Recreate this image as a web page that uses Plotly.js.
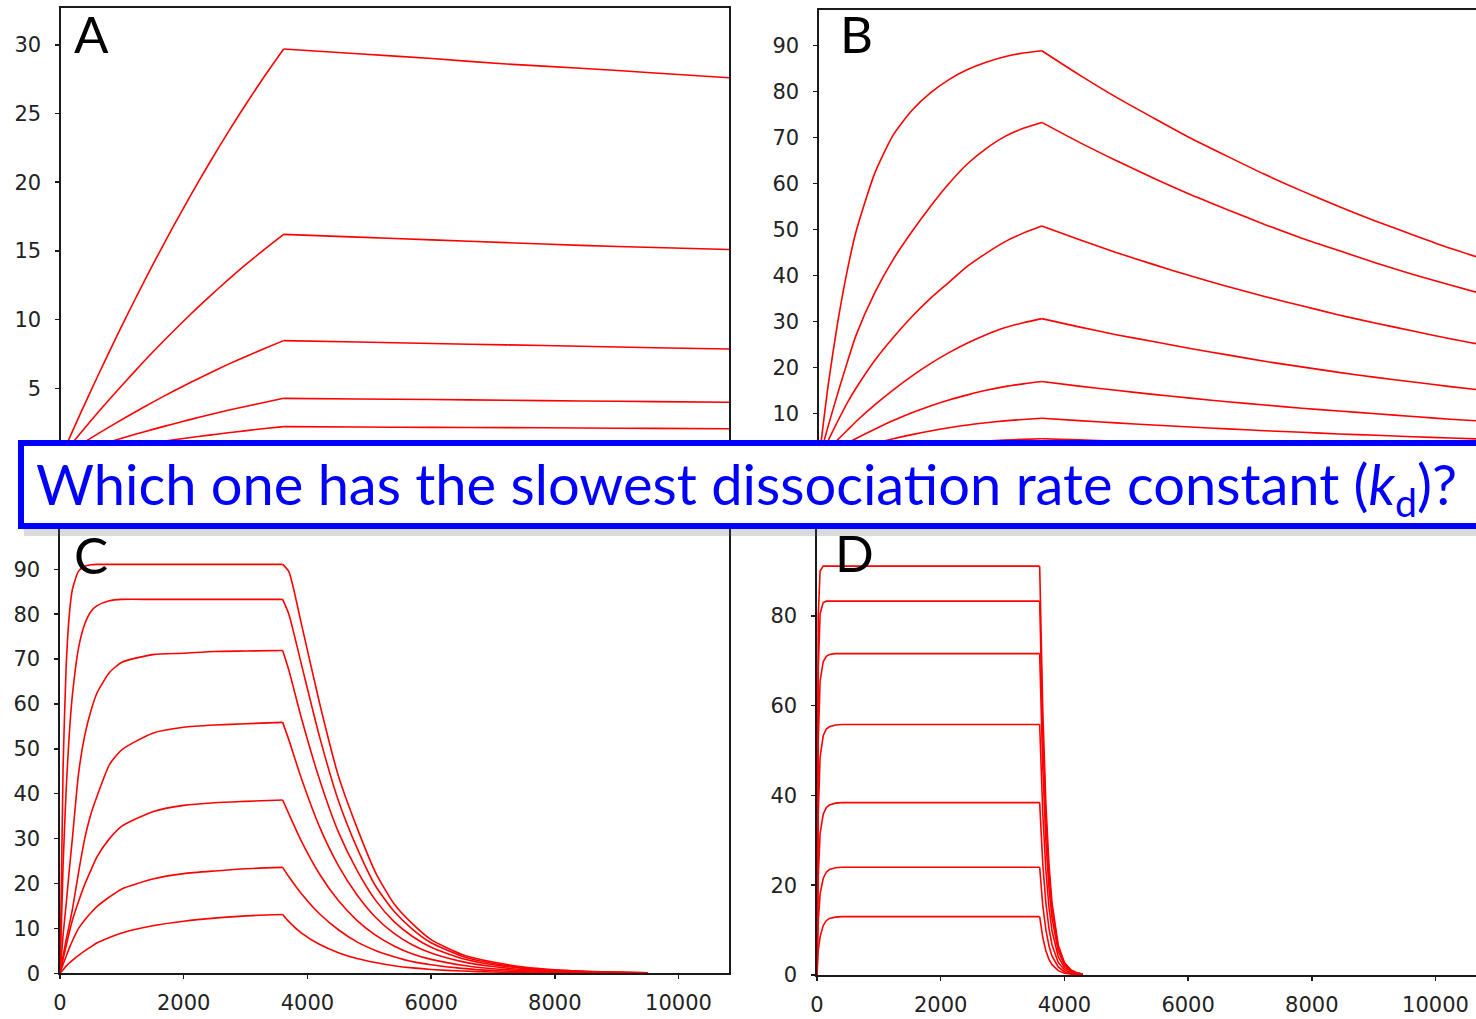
<!DOCTYPE html>
<html>
<head>
<meta charset="utf-8">
<script src="https://cdn.plot.ly/plotly-3.0.1.min.js"></script>
<style>
html, body { margin: 0; padding: 0; overflow: hidden; background: #ffffff; }
#chart { width: 1500px; height: 1019px; }
</style>
</head>
<body>
<div id="chart"></div>
<script>
// ---------- Data ----------
// Injection ends (association -> dissociation) at this time (s)
const injectionEnd = 3600;

// Panel A: time (s) and response (RU)
const timeA = [0, 300, 600, 900, 1200, 1500, 1800, 2100, 2400, 2700, 3000, 3300, 3600, 4800, 6000, 7200, 8400, 9600, 10800];
const a1 = [0, 3.03, 5.95, 8.78, 11.5, 14.13, 16.65, 19.08, 21.4, 23.63, 25.75, 27.78, 29.7, 29.35, 29.0, 28.6, 28.3, 27.95, 27.6];
const a2 = [0, 1.65, 3.25, 4.79, 6.27, 7.71, 9.08, 10.41, 11.67, 12.89, 14.05, 15.15, 16.2, 16.0, 15.8, 15.6, 15.4, 15.25, 15.1];
const a3 = [0, 0.86, 1.70, 2.50, 3.28, 4.03, 4.75, 5.44, 6.10, 6.74, 7.34, 7.92, 8.47, 8.37, 8.26, 8.16, 8.06, 7.95, 7.86];
const a4 = [0, 0.44, 0.86, 1.26, 1.65, 2.03, 2.39, 2.74, 3.08, 3.40, 3.70, 3.99, 4.27, 4.22, 4.18, 4.13, 4.08, 4.03, 3.98];
const a5 = [0, 0.23, 0.44, 0.65, 0.86, 1.05, 1.24, 1.42, 1.59, 1.76, 1.92, 2.07, 2.21, 2.18, 2.16, 2.14, 2.11, 2.08, 2.06];

// Panel B
const timeB = [0, 150, 300, 450, 600, 900, 1200, 1500, 1800, 2100, 2400, 2700, 3000, 3300, 3600, 4200, 4800, 5400, 6000, 6600, 7200, 7800, 8400, 9000, 9600, 10200, 10800];
const b1 = [0, 16.3, 29.6, 40.6, 49.6, 62.2, 70.6, 75.9, 79.7, 82.6, 84.8, 86.4, 87.6, 88.4, 88.9, 83.7, 78.8, 74.3, 69.9, 65.9, 62.0, 58.4, 55.0, 51.8, 48.8, 45.9, 43.3];
const b2 = [0, 7.3, 14.2, 20.8, 27.0, 36.2, 43.5, 49.5, 55.0, 60.0, 64.3, 67.6, 70.2, 72.0, 73.3, 69.0, 65.0, 61.2, 57.6, 54.3, 51.1, 48.1, 45.4, 42.7, 40.2, 37.9, 35.7];
const b3 = [0, 4.1, 8.2, 12.1, 15.5, 21.5, 26.5, 31, 35, 38.5, 42, 44.8, 47.3, 49.2, 50.75, 47.8, 45.0, 42.4, 39.9, 37.6, 35.4, 33.4, 31.4, 29.6, 27.9, 26.2, 24.7];
const b4 = [0, 2.1, 4.2, 6.2, 8.2, 11.8, 15.1, 18.1, 20.8, 23.2, 25.3, 27.1, 28.6, 29.7, 30.6, 28.8, 27.1, 25.6, 24.1, 22.7, 21.3, 20.1, 18.9, 17.8, 16.8, 15.8, 14.9];
const b5 = [0, 1.15, 2.3, 3.4, 4.5, 6.5, 8.4, 10.1, 11.6, 12.9, 14.0, 15.0, 15.8, 16.4, 16.9, 15.9, 15.0, 14.1, 13.3, 12.5, 11.8, 11.1, 10.5, 9.9, 9.3, 8.7, 8.2];
const b6 = [0, 0.6, 1.2, 1.8, 2.35, 3.45, 4.45, 5.35, 6.15, 6.85, 7.45, 7.95, 8.35, 8.65, 8.9, 8.4, 7.9, 7.45, 7.0, 6.6, 6.2, 5.85, 5.5, 5.2, 4.9, 4.6, 4.35];
const b7 = [0, 0.3, 0.6, 0.9, 1.18, 1.72, 2.22, 2.67, 3.07, 3.42, 3.72, 3.97, 4.17, 4.32, 4.45, 4.2, 3.95, 3.72, 3.5, 3.3, 3.1, 2.92, 2.75, 2.6, 2.45, 2.3, 2.18];

// Panel C
const timeC = [0, 50, 100, 150, 200, 300, 400, 500, 600, 800, 1000, 1500, 2000, 2500, 3000, 3600, 3700, 3900, 4200, 4500, 4800, 5100, 5400, 5700, 6000, 6500, 7000, 7500, 8000, 8500, 9000, 9500];
const c1 = [0, 45.8, 68.5, 79.8, 85.5, 89.6, 90.7, 91.0, 91.1, 91.1, 91.1, 91.1, 91.1, 91.1, 91.1, 91.1, 89.5, 78, 60, 44, 32.5, 22.5, 15.5, 11, 7.5, 4.2, 2.5, 1.4, 0.8, 0.45, 0.25, 0.1];
const c2 = [0, 24.0, 41.0, 53.3, 61.9, 72.5, 77.8, 80.6, 81.9, 83.0, 83.3, 83.3, 83.3, 83.3, 83.3, 83.3, 80, 69, 52.5, 38.5, 28, 19.5, 13.8, 9.8, 6.8, 3.8, 2.2, 1.25, 0.7, 0.4, 0.22, 0.1];
const c3 = [0, 8.5, 15.5, 23, 30, 44.5, 53, 58.5, 62.5, 67, 69.3, 71.0, 71.3, 71.7, 71.8, 71.9, 67.5, 57, 43, 31.5, 23, 16.3, 11.5, 8.2, 5.8, 3.3, 1.9, 1.1, 0.6, 0.35, 0.2, 0.1];
const c4 = [0, 3.8, 7.5, 10.8, 14.2, 22.5, 30, 35.5, 39.5, 46.5, 49.8, 53.5, 54.8, 55.3, 55.6, 55.9, 52, 43.5, 32.5, 24, 17.5, 12.5, 8.9, 6.3, 4.5, 2.6, 1.5, 0.85, 0.5, 0.28, 0.15, 0.08];
const c5 = [0, 3.2, 6.2, 9.1, 11.8, 16, 19.8, 23, 26, 30, 32.8, 36, 37.4, 38, 38.3, 38.6, 35.5, 29.5, 22, 16.2, 11.8, 8.5, 6.1, 4.3, 3.1, 1.8, 1.0, 0.6, 0.35, 0.2, 0.1, 0.05];
const c6 = [0, 2.0, 3.8, 5.6, 7.2, 10.0, 11.9, 13.5, 14.9, 17.0, 18.8, 21.0, 22.2, 22.8, 23.3, 23.6, 21.5, 17.8, 13.2, 9.7, 7.0, 5.1, 3.7, 2.6, 1.9, 1.1, 0.62, 0.36, 0.2, 0.12, 0.07, 0.04];
const c7 = [0, 0.8, 1.6, 2.3, 2.9, 4.0, 5.0, 5.9, 6.8, 8.0, 9.0, 10.6, 11.6, 12.3, 12.8, 13.1, 11.5, 9.0, 6.4, 4.6, 3.3, 2.4, 1.7, 1.2, 0.85, 0.5, 0.28, 0.16, 0.09, 0.05, 0.03, 0.02];

// Panel D
const timeD = [0, 20, 50, 100, 150, 200, 300, 400, 3600, 3620, 3650, 3700, 3750, 3800, 3900, 4000, 4100, 4200, 4300];
const d1 = [0, 80, 90, 91.1, 91.1, 91.1, 91.1, 91.1, 91.1, 76.5, 59, 38.2, 24.7, 16.0, 6.7, 2.8, 1.2, 0.5, 0.23];
const d2 = [0, 68, 80.5, 83, 83.3, 83.3, 83.3, 83.3, 83.3, 70, 53.9, 34.9, 22.6, 14.6, 6.1, 2.6, 1.1, 0.45, 0.2];
const d3 = [0, 52, 65.5, 69.8, 71, 71.4, 71.6, 71.6, 71.6, 60.1, 46.3, 30.0, 19.4, 12.6, 5.3, 2.2, 0.92, 0.39, 0.16];
const d4 = [0, 36, 48.5, 53.3, 54.8, 55.3, 55.7, 55.8, 55.8, 46.9, 36.1, 23.4, 15.1, 9.8, 4.1, 1.7, 0.72, 0.3, 0.13];
const d5 = [0, 22, 31.5, 35.8, 37.3, 37.9, 38.3, 38.4, 38.4, 32.3, 24.8, 16.1, 10.4, 6.7, 2.8, 1.2, 0.5, 0.21, 0.09];
const d6 = [0, 12, 18, 21.5, 22.9, 23.5, 23.9, 24.0, 24.0, 20.2, 15.5, 10.1, 6.5, 4.2, 1.8, 0.74, 0.31, 0.13, 0.06];
const d7 = [0, 5.5, 8.5, 11, 12.1, 12.6, 12.9, 13.0, 13.0, 10.9, 8.4, 5.4, 3.5, 2.3, 0.96, 0.4, 0.17, 0.07, 0.03];

// Tick values and labels
const yTicksA = [5, 10, 15, 20, 25, 30];
const yTicksB = [10, 20, 30, 40, 50, 60, 70, 80, 90];
const yTicksC = [0, 10, 20, 30, 40, 50, 60, 70, 80, 90];
const yTicksD = [0, 20, 40, 60, 80];
const xTicks = [0, 2000, 4000, 6000, 8000, 10000];
const panelLabels = ["A", "B", "C", "D"];
const question = "Which one has the slowest dissociation rate constant (<i>k</i><sub>d</sub>)?";

// ---------- Build ----------
const W = 1500, H = 1019;
const px = v => v / W;
const py = v => 1 - v / H;

const RED = '#ff0000';
// Each curve is drawn as two pieces (association, dissociation) so the
// corner at the end of injection stays sharp while each phase is smooth.
function series(t, ys, xa, ya, shape) {
  const k = t.indexOf(injectionEnd);
  const out = [];
  ys.forEach(y => {
    [[0, k + 1], [k, t.length]].forEach(([s, e]) => {
      out.push({
        type: 'scatter', mode: 'lines', x: t.slice(s, e), y: y.slice(s, e),
        xaxis: xa, yaxis: ya,
        line: { color: RED, width: 1.6, shape: shape, smoothing: 0.6 },
        hoverinfo: 'skip', showlegend: false
      });
    });
  });
  return out;
}

const traces = []
  .concat(series(timeA, [a1, a2, a3, a4, a5], 'x', 'y', 'spline'))
  .concat(series(timeB, [b1, b2, b3, b4, b5, b6, b7], 'x2', 'y2', 'spline'))
  .concat(series(timeC, [c1, c2, c3, c4, c5, c6, c7], 'x3', 'y3', 'spline'))
  .concat(series(timeD, [d1, d2, d3, d4, d5, d6, d7], 'x4', 'y4', 'linear'));

const tickFont = { family: 'DejaVu Sans', size: 21, color: '#222222' };
const axisBase = {
  showline: true, linecolor: '#1a1a1a', linewidth: 1.6, mirror: true,
  showgrid: false, zeroline: false, fixedrange: true,
  ticks: 'outside', ticklen: 4, tickwidth: 1.5, tickcolor: '#1a1a1a',
  tickfont: tickFont
};
function xAxis(dom, range, labels, anchor) {
  return Object.assign({}, axisBase, {
    domain: dom, range: range, anchor: anchor,
    tickmode: 'array', tickvals: xTicks, ticktext: xTicks.map(String),
    showticklabels: labels, ticks: labels ? 'outside' : '',
    ticklabelstandoff: 6
  });
}
function yAxis(dom, range, vals, anchor) {
  return Object.assign({}, axisBase, {
    domain: dom, range: range, anchor: anchor,
    tickmode: 'array', tickvals: vals, ticktext: vals.map(String),
    ticklabelstandoff: 10
  });
}

const layout = {
  width: W, height: H,
  margin: { l: 0, r: 0, t: 0, b: 0, pad: 0 },
  paper_bgcolor: '#ffffff', plot_bgcolor: '#ffffff',
  showlegend: false,
  xaxis:  xAxis([px(61), px(729)], [0, 10800], false, 'y'),
  yaxis:  yAxis([py(470), py(8)], [-0.946, 32.68], yTicksA, 'x'),
  xaxis2: xAxis([px(819), px(1488)], [0, 10810], false, 'y2'),
  yaxis2: yAxis([py(470), py(10)], [-2.35, 97.76], yTicksB, 'x2'),
  xaxis3: xAxis([px(60), px(729)], [0, 10816], true, 'y3'),
  yaxis3: yAxis([py(973.3), py(528)], [0, 99.2], yTicksC, 'x3'),
  xaxis4: xAxis([px(817), px(1486)], [0, 10816], true, 'y4'),
  yaxis4: yAxis([py(975), py(528)], [0, 99.6], yTicksD, 'x4'),
  shapes: [
    { type: 'rect', xref: 'paper', yref: 'paper', layer: 'above',
      x0: px(24), x1: px(1520), y0: py(446), y1: py(536),
      fillcolor: 'rgba(90,90,90,0.22)', line: { width: 0 } },
    { type: 'rect', xref: 'paper', yref: 'paper', layer: 'above',
      x0: px(21), x1: px(1520), y0: py(443), y1: py(526),
      fillcolor: '#ffffff', line: { color: '#0000ff', width: 6 } }
  ],
  annotations: [
    { text: panelLabels[0], xref: 'paper', yref: 'paper', x: px(91.5), y: py(33), xanchor: 'center', yanchor: 'middle', showarrow: false, font: { family: 'Lato', size: 51, color: '#000000' } },
    { text: panelLabels[1], xref: 'paper', yref: 'paper', x: px(856), y: py(33.5), xanchor: 'center', yanchor: 'middle', showarrow: false, font: { family: 'Lato', size: 51, color: '#000000' } },
    { text: panelLabels[2], xref: 'paper', yref: 'paper', x: px(90.5), y: py(554), xanchor: 'center', yanchor: 'middle', showarrow: false, font: { family: 'Lato', size: 51, color: '#000000' } },
    { text: panelLabels[3], xref: 'paper', yref: 'paper', x: px(855), y: py(552), xanchor: 'center', yanchor: 'middle', showarrow: false, font: { family: 'Lato', size: 51, color: '#000000' } },
    { text: question, xref: 'paper', yref: 'paper', x: px(34), y: py(487), xanchor: 'left', yanchor: 'middle', showarrow: false, font: { family: 'Lato', size: 56, color: '#0000ff' } }
  ]
};

Plotly.newPlot('chart', traces, layout, { staticPlot: true, displayModeBar: false });
</script>
</body>
</html>
